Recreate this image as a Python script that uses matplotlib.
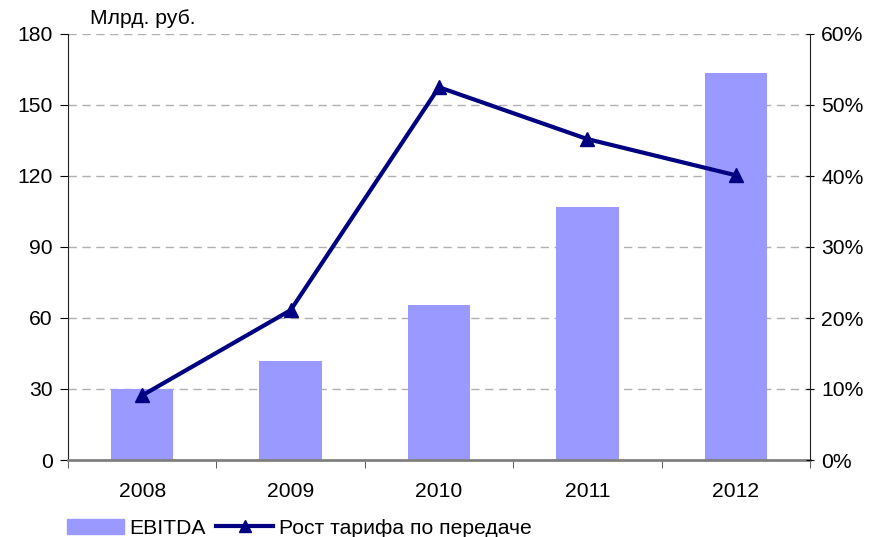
import matplotlib
matplotlib.use("Agg")
import matplotlib.pyplot as plt
from matplotlib.lines import Line2D
from matplotlib.patches import Patch
import numpy as np

years = ["2008", "2009", "2010", "2011", "2012"]
ebitda = [30.0, 41.8, 65.5, 106.9, 163.5]
tariff_growth = [9.1, 21.1, 52.5, 45.2, 40.1]
left_ticks = [0, 30, 60, 90, 120, 150, 180]
right_ticks = [0, 10, 20, 30, 40, 50, 60]

FS = 15.2
plt.rcParams['font.family'] = ['Liberation Sans', 'DejaVu Sans']
plt.rcParams['font.size'] = FS

fig = plt.figure(figsize=(8.82, 5.37), dpi=100)
ax = fig.add_axes([68/882, 1-460/537, (810-68)/882, (460-34)/537])
x = np.arange(len(years))
ax.bar(x, ebitda, width=0.42, color="#9999FF", zorder=2)
ax.set_xlim(-0.5, len(years)-0.5)
ax.set_ylim(0, 180)
ax.set_yticks(left_ticks)
ax.set_yticklabels([str(t) for t in left_ticks])
for t in left_ticks[1:]:
    ax.axhline(t, color="#B0B0B0", lw=1, ls=(0, (6, 4)), zorder=1)
ax.set_xticks(x)
ax.set_xticklabels(years)
ax.set_xticks(np.arange(-0.5, len(years)), minor=True)
ax.tick_params(axis='x', which='major', length=0, pad=16)
ax.tick_params(axis='x', which='minor', length=6, color="#404040")
ax.tick_params(axis='y', length=6, direction='out', pad=5)
ax.spines['top'].set_visible(False)
ax.spines['right'].set_visible(False)
ax.spines['bottom'].set_color("#808080")
ax.spines['bottom'].set_linewidth(2)
ax.spines['left'].set_color("#202020")

ax2 = ax.twinx()
ax2.plot(x, tariff_growth, color="#000080", lw=3, marker="^", markersize=10, zorder=5)
ax2.set_ylim(0, 60)
ax2.set_yticks(right_ticks)
ax2.set_yticklabels([f"{t}%" for t in right_ticks])
ax2.tick_params(axis='y', length=6, direction='inout', pad=5)
for s in ['top', 'left', 'bottom']:
    ax2.spines[s].set_visible(False)
ax2.spines['right'].set_color("#202020")

fig.text(90/882, 1-18/537, "Млрд. руб.", ha='left', va='center', fontsize=FS)

handles = [Patch(color="#9999FF", label="EBITDA"),
           Line2D([0], [0], color="#000080", lw=3, marker="^", markersize=9,
                  label="Рост тарифа по передаче")]
fig.legend(handles=handles, loc='center left', bbox_to_anchor=(67/882, 1-528/537),
           ncol=2, frameon=False, handlelength=2.7, handletextpad=0.25,
           columnspacing=0.5, borderpad=0, borderaxespad=0, fontsize=FS)

fig.savefig("out.png", dpi=100)
